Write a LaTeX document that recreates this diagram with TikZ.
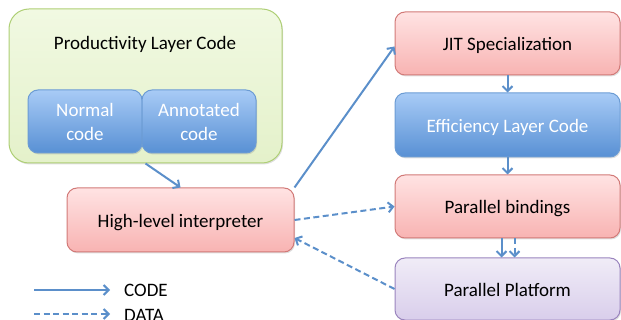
\documentclass[tikz,border=0pt]{standalone}
\usepackage{fontspec}
\setmainfont{Carlito}
\usetikzlibrary{arrows.meta,shadows}
\definecolor{redtop}{HTML}{FFE3E3}
\definecolor{redbot}{HTML}{F8B3B2}
\definecolor{redline}{HTML}{D27A78}
\definecolor{bluetop}{HTML}{A8CBF6}
\definecolor{bluebot}{HTML}{5890D4}
\definecolor{blueline}{HTML}{6C9CD4}
\definecolor{greentop}{HTML}{F1F9E2}
\definecolor{greenbot}{HTML}{E4F1CA}
\definecolor{greenline}{HTML}{AECF75}
\definecolor{purtop}{HTML}{F0ECF7}
\definecolor{purbot}{HTML}{D9CEEB}
\definecolor{purline}{HTML}{9A84BE}
\definecolor{arrowc}{HTML}{5B8FCA}
\tikzset{
  box/.style={rounded corners=10pt, line width=1pt, align=center,
    font=\fontsize{19}{24}\selectfont, inner sep=0pt,
    drop shadow={shadow xshift=1pt, shadow yshift=-1.5pt, opacity=0.25}},
  one/.style={text height=15pt, text depth=0pt},
  redbox/.style={box, one, draw=redline, top color=redtop, bottom color=redbot, text=black},
  bluebox/.style={box, draw=blueline, top color=bluetop, bottom color=bluebot, text=white},
  greenbox/.style={box, rounded corners=20pt, draw=greenline, top color=greentop, bottom color=greenbot},
  purbox/.style={box, one, draw=purline, top color=purtop, bottom color=purbot, text=black},
  code/.style={draw=arrowc, line width=2pt, -{Straight Barb[length=5pt,width=10pt,line width=2pt]}},
  data/.style={code, dash pattern=on 6pt off 3.5pt},
  lbl/.style={font=\fontsize{19}{24}\selectfont, inner sep=0pt}
}
\begin{document}
\begin{tikzpicture}[x=1pt,y=-1pt]
\useasboundingbox (0,0) rectangle (621,320);
\clip (0,0) rectangle (621,320);
\node[greenbox, minimum width=273pt, minimum height=154pt] (prod) at (145.5,86) {};
\node[lbl] (title) at (145,44) {Productivity Layer Code};
\node[bluebox, minimum width=114pt, minimum height=63pt] (normal) at (85,121.5) {Normal\\code};
\node[bluebox, minimum width=114pt, minimum height=63pt] (annot) at (199,121.5) {Annotated\\code};
\node[redbox, minimum width=227pt, minimum height=64pt] (hli) at (180.5,220) {High-level interpreter};
\node[redbox, minimum width=225pt, minimum height=63pt] (jit) at (507.5,43.5) {JIT Specialization};
\node[bluebox, one, minimum width=225pt, minimum height=64pt] (eff) at (507.5,125) {Efficiency Layer Code};
\node[redbox, minimum width=225pt, minimum height=63pt] (pb) at (507.5,206.5) {Parallel bindings};
\node[purbox, minimum width=225pt, minimum height=62pt] (pp) at (507.5,289) {Parallel Platform};
\draw[code] (prod.south) -- (hli.north);
\draw[code] (hli.north east) -- ([yshift=-3pt]jit.west);
\draw[code] (jit.south) -- (eff.north);
\draw[code] (eff.south) -- (pb.north);
\draw[code] ([xshift=-6pt]pb.south) -- ([xshift=-6pt]pp.north);
\draw[data] ([xshift=7pt]pb.south) -- ([xshift=7pt]pp.north);
\draw[data] (hli.east) -- (pb.west);
\draw[data] (pp.west) -- ([yshift=-18pt]hli.east);
\coordinate (c1) at (34,290);
\coordinate (c2) at (110,290);
\coordinate (d1) at (34,314);
\coordinate (d2) at (110,314);
\draw[code] (c1) -- (c2);
\draw[data] (d1) -- (d2);
\node[lbl, anchor=west] (codelbl) at (124,290) {CODE};
\node[lbl, anchor=west] (datalbl) at (124,315) {DATA};
\end{tikzpicture}
\end{document}
